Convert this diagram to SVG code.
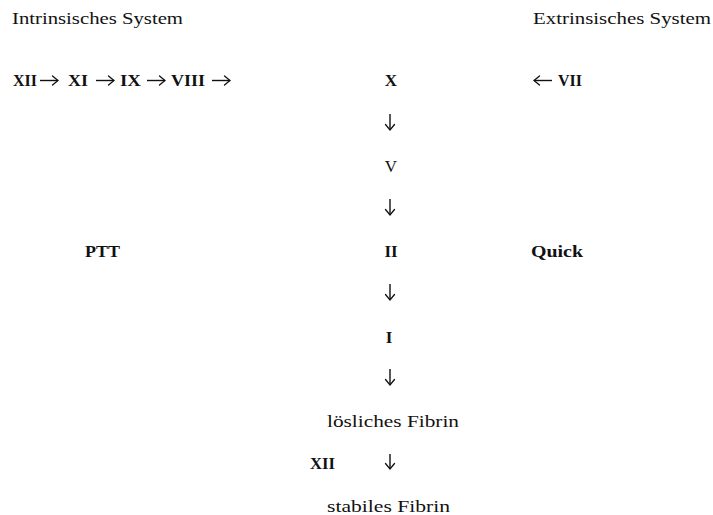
<svg xmlns="http://www.w3.org/2000/svg" width="713" height="515" viewBox="0 0 713 515">
<defs>
<marker id="ah" markerUnits="userSpaceOnUse" markerWidth="10" markerHeight="12" refX="6" refY="5" orient="auto" overflow="visible">
<path d="M0.5,0.5 L6,5 L0.5,9.5" fill="none" stroke="#111" stroke-width="1.3" stroke-linecap="round" stroke-linejoin="miter"/>
</marker>
</defs>
<style>
text{font-family:"Liberation Serif","DejaVu Serif",serif;font-size:17px;fill:#111}
.b{font-weight:bold}
.m{text-anchor:middle}
.c path{fill:none;stroke:#111;stroke-width:1.4;marker-end:url(#ah)}
</style>
<rect width="713" height="515" fill="#fff"/>
<g id="intrinsic-label"><text x="12" y="24" textLength="171" lengthAdjust="spacingAndGlyphs">Intrinsisches System</text></g>
<g id="extrinsic-label"><text x="533" y="24" textLength="178" lengthAdjust="spacingAndGlyphs">Extrinsisches System</text></g>
<g id="nXII"><text class="b" x="13" y="86" textLength="24" lengthAdjust="spacingAndGlyphs">XII</text></g>
<g id="nXI"><text class="b" x="68" y="86" textLength="20" lengthAdjust="spacingAndGlyphs">XI</text></g>
<g id="nIX"><text class="b" x="120" y="86" textLength="21" lengthAdjust="spacingAndGlyphs">IX</text></g>
<g id="nVIII"><text class="b" x="171" y="86" textLength="34" lengthAdjust="spacingAndGlyphs">VIII</text></g>
<g id="nX"><text class="b m" x="391" y="86">X</text></g>
<g id="nVII"><text class="b" x="558" y="86" textLength="24" lengthAdjust="spacingAndGlyphs">VII</text></g>
<g id="connectors" class="c">
<path d="M40,80.5 H58"/>
<path d="M96,80.5 H114"/>
<path d="M147,80.5 H165"/>
<path d="M212,80.5 H230"/>
<path d="M552,80.5 H534"/>
<path d="M390,114 V130"/>
<path d="M390,199 V215"/>
<path d="M390,284 V300"/>
<path d="M390,369 V385"/>
<path d="M390,454 V469"/>
</g>
<g id="nV"><text class="m" x="391" y="172">V</text></g>
<g id="nII"><text class="b m" x="391" y="257">II</text></g>
<g id="PTT"><text class="b" x="85" y="257" textLength="35" lengthAdjust="spacingAndGlyphs">PTT</text></g>
<g id="Quick"><text class="b" x="531" y="257" textLength="52" lengthAdjust="spacingAndGlyphs">Quick</text></g>
<g id="nI"><text class="b m" x="389" y="343">I</text></g>
<g id="loesliches"><text x="327" y="427" textLength="132" lengthAdjust="spacingAndGlyphs">lösliches Fibrin</text></g>
<g id="XII"><text class="b" x="310" y="469" textLength="25" lengthAdjust="spacingAndGlyphs">XII</text></g>
<g id="stabiles"><text x="327" y="512" textLength="123" lengthAdjust="spacingAndGlyphs">stabiles Fibrin</text></g>
</svg>
